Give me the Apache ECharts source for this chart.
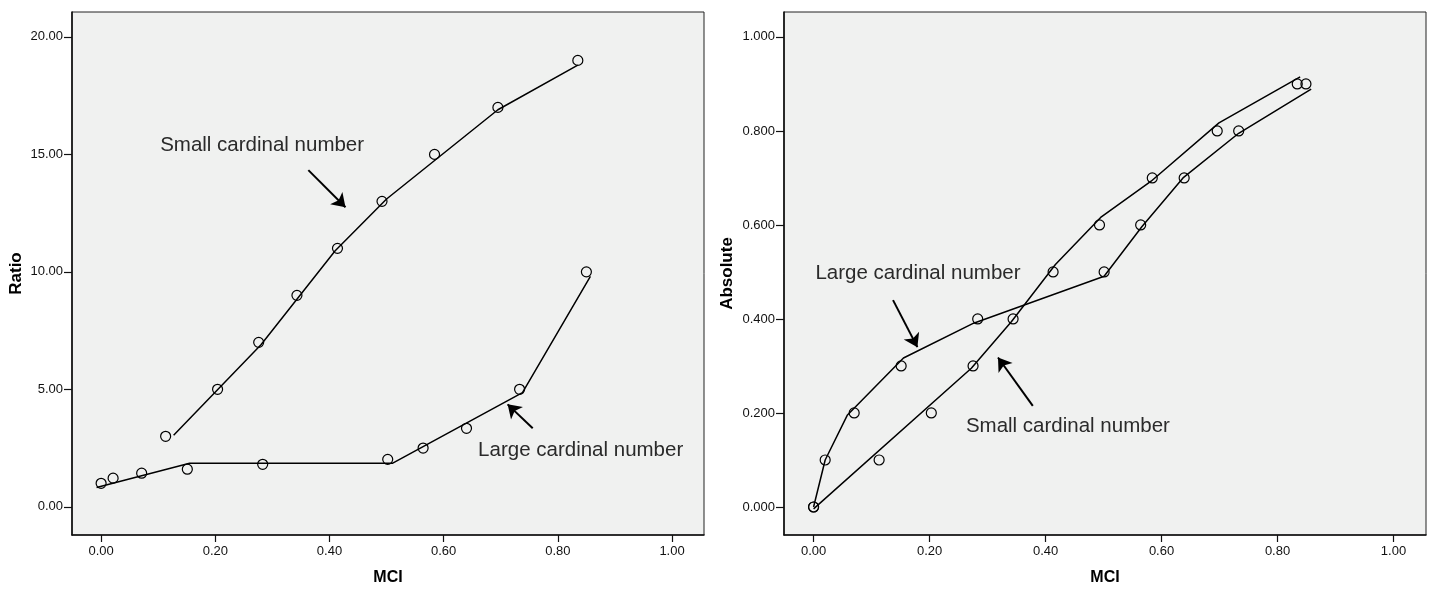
<!DOCTYPE html>
<html><head><meta charset="utf-8">
<script src="https://cdn.jsdelivr.net/npm/echarts@6/dist/echarts.min.js"></script>
<style>html,body{margin:0;padding:0;background:#fff}#c{width:1440px;height:592px}</style>
</head><body><div id="c"></div>
<script>
// ---- data ----
const xTicks = [0, 0.2, 0.4, 0.6, 0.8, 1.0];
const ratioTicks = [0, 5, 10, 15, 20];
const absTicks = [0, 0.2, 0.4, 0.6, 0.8, 1.0];

// Left panel (Ratio)
const ratioSmallX = [0.113, 0.204, 0.276, 0.343, 0.414, 0.492, 0.584, 0.695, 0.835];
const ratioSmallY = [3, 5, 7, 9, 11, 13, 15, 17, 19];
const ratioSmallFitX = [0.127, 0.28, 0.41, 0.50, 0.695, 0.835];
const ratioSmallFitY = [3.05, 6.9, 10.9, 13.1, 16.9, 18.8];
const ratioLargeX = [0.0, 0.021, 0.071, 0.151, 0.283, 0.502, 0.564, 0.640, 0.733, 0.850];
const ratioLargeY = [1.0, 1.22, 1.43, 1.6, 1.81, 2.02, 2.5, 3.34, 5.0, 10.0];
const ratioLargeFitX = [-0.008, 0.155, 0.51, 0.738, 0.857];
const ratioLargeFitY = [0.82, 1.85, 1.85, 4.86, 9.81];

// Right panel (Absolute)
const absSmallX = [0.0, 0.113, 0.203, 0.275, 0.344, 0.413, 0.493, 0.584, 0.696, 0.834];
const absSmallY = [0, 0.1, 0.2, 0.3, 0.4, 0.5, 0.6, 0.7, 0.8, 0.9];
const absSmallFitX = [0, 0.272, 0.341, 0.417, 0.495, 0.582, 0.699, 0.839];
const absSmallFitY = [-0.004, 0.295, 0.394, 0.516, 0.616, 0.693, 0.817, 0.915];
const absLargeX = [0.0, 0.020, 0.070, 0.151, 0.283, 0.501, 0.564, 0.639, 0.733, 0.849];
const absLargeY = [0, 0.1, 0.2, 0.3, 0.4, 0.5, 0.6, 0.7, 0.8, 0.9];
const absLargeFitX = [0, 0.02, 0.058, 0.155, 0.276, 0.501, 0.566, 0.637, 0.733, 0.858];
const absLargeFitY = [0, 0.1, 0.195, 0.317, 0.391, 0.491, 0.596, 0.70, 0.795, 0.889];

// Annotations
const labelSmall = 'Small cardinal number';
const labelLarge = 'Large cardinal number';
const ratioSmallLabelPos = [0.282, 15.4];
const ratioLargeLabelPos = [0.84, 2.42];
const absLargeLabelPos = [0.18, 0.498];
const absSmallLabelPos = [0.4385, 0.171];
const ratioSmallArrow = [[0.363, 14.33], [0.428, 12.75]];
const ratioLargeArrow = [[0.756, 3.34], [0.712, 4.36]];
const absLargeArrow = [[0.137, 0.44], [0.179, 0.34]];
const absSmallArrow = [[0.378, 0.215], [0.318, 0.318]];

// ---- build ----
const zip = (a, b) => a.map((v, i) => [v, b[i]]);
const tickFont = 'Liberation Sans, Arial, sans-serif';
const titleFont = 'Liberation Sans, Arial, sans-serif';

function xAx(gi) {
  return {
    type: 'value', gridIndex: gi, min: -0.051, max: 1.056,
    name: 'MCI', nameLocation: 'middle', nameGap: 35,
    nameTextStyle: {fontFamily: titleFont, fontWeight: 'bold', fontSize: 16, color: '#000'},
    axisLine: {show: true, onZero: false, lineStyle: {color: '#111', width: 1.6}},
    axisTick: {show: true, length: 7, inside: false, customValues: xTicks, lineStyle: {color: '#111', width: 1.2}},
    axisLabel: {show: true, margin: 10, customValues: xTicks, fontFamily: tickFont, fontSize: 13, color: '#111',
      formatter: v => v.toFixed(2)},
    splitLine: {show: false}
  };
}
function yAx(gi, min, max, ticks, name, digits, gap) {
  return {
    type: 'value', gridIndex: gi, min: min, max: max,
    name: name, nameLocation: 'middle', nameGap: gap, nameRotate: 90,
    nameTextStyle: {fontFamily: titleFont, fontWeight: 'bold', fontSize: 17, color: '#000'},
    axisLine: {show: true, onZero: false, lineStyle: {color: '#111', width: 1.6}},
    axisTick: {show: true, length: 8, inside: false, customValues: ticks, lineStyle: {color: '#111', width: 1.2}},
    axisLabel: {show: true, margin: 9, customValues: ticks, fontFamily: tickFont, fontSize: 13, color: '#111',
      formatter: v => v.toFixed(digits)},
    splitLine: {show: false}
  };
}
function fitLine(xi, x, y) {
  return {type: 'line', xAxisIndex: xi, yAxisIndex: xi, data: zip(x, y), symbol: 'none', silent: true,
    lineStyle: {color: '#000', width: 1.5}, z: 3, animation: false};
}
function pts(xi, x, y) {
  return {type: 'scatter', xAxisIndex: xi, yAxisIndex: xi, data: zip(x, y), symbol: 'circle', symbolSize: 10,
    itemStyle: {color: 'rgba(0,0,0,0)', borderColor: '#000', borderWidth: 1.2, opacity: 1}, z: 4, animation: false};
}
function arrow(xi, a) {
  return {type: 'lines', coordinateSystem: 'cartesian2d', xAxisIndex: xi, yAxisIndex: xi,
    data: [{coords: a}], symbol: ['none', 'arrow'], symbolSize: 13,
    lineStyle: {color: '#000', width: 2, opacity: 1, curveness: 0}, z: 5, animation: false, silent: true};
}
function label(xi, pos, txt) {
  return {type: 'scatter', xAxisIndex: xi, yAxisIndex: xi, data: [pos], symbolSize: 0, silent: true,
    itemStyle: {opacity: 1},
    label: {show: true, position: 'inside', formatter: txt, fontFamily: titleFont, fontSize: 20.5, color: '#2a2a2a', opacity: 1},
    z: 6, animation: false};
}

const option = {
  animation: false,
  backgroundColor: '#fff',
  grid: [
    {left: 72, top: 12, width: 632, height: 523, show: true, backgroundColor: '#f0f1f0', borderColor: '#222', borderWidth: 1},
    {left: 784, top: 12, width: 642, height: 523, show: true, backgroundColor: '#f0f1f0', borderColor: '#222', borderWidth: 1}
  ],
  xAxis: [xAx(0), xAx(1)],
  yAxis: [
    yAx(0, -1.2, 21.06, ratioTicks, 'Ratio', 2, 47),
    yAx(1, -0.0596, 1.053, absTicks, 'Absolute', 3, 48)
  ],
  series: [
    fitLine(0, ratioSmallFitX, ratioSmallFitY),
    fitLine(0, ratioLargeFitX, ratioLargeFitY),
    pts(0, ratioSmallX, ratioSmallY),
    pts(0, ratioLargeX, ratioLargeY),
    arrow(0, ratioSmallArrow),
    arrow(0, ratioLargeArrow),
    label(0, ratioSmallLabelPos, labelSmall),
    label(0, ratioLargeLabelPos, labelLarge),
    fitLine(1, absSmallFitX, absSmallFitY),
    fitLine(1, absLargeFitX, absLargeFitY),
    pts(1, absSmallX, absSmallY),
    pts(1, absLargeX, absLargeY),
    arrow(1, absLargeArrow),
    arrow(1, absSmallArrow),
    label(1, absLargeLabelPos, labelLarge),
    label(1, absSmallLabelPos, labelSmall)
  ]
};
const chart = echarts.init(document.getElementById('c'), null, {renderer: 'canvas'});
chart.setOption(option);
</script>
</body></html>
